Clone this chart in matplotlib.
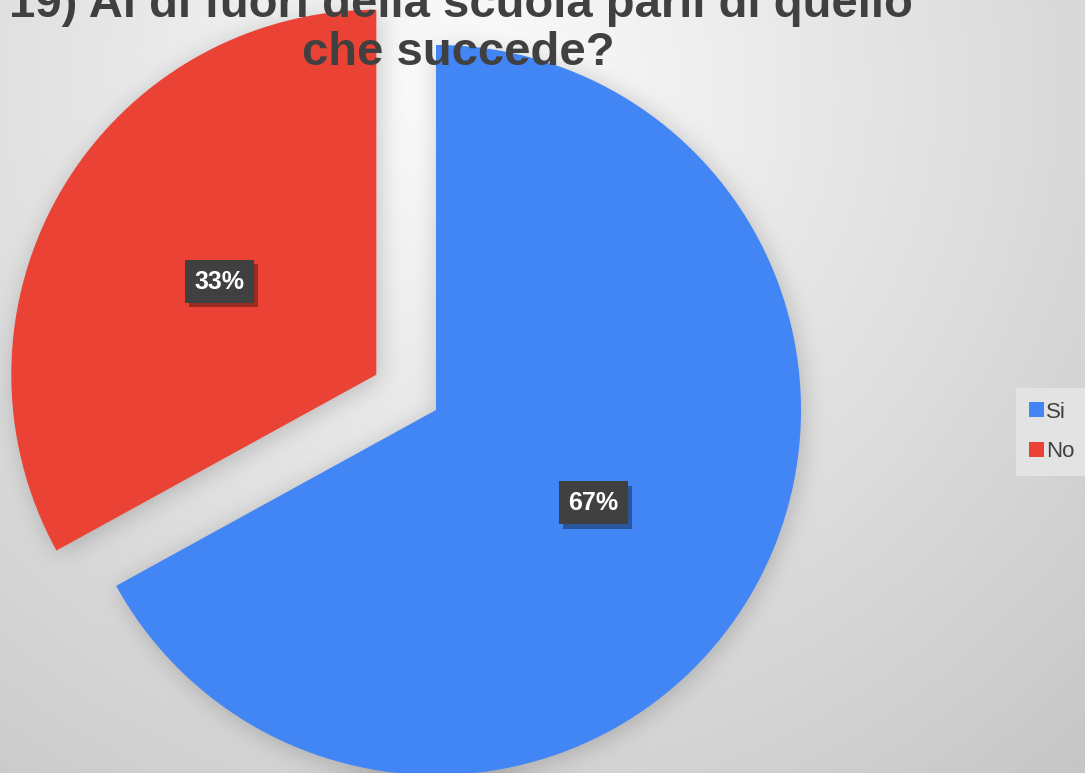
import numpy as np
import matplotlib.pyplot as plt
import matplotlib.patheffects as pe

plt.rcParams['font.family'] = ['Liberation Sans', 'DejaVu Sans']

labels = ['Si', 'No']
values = [67, 33]
colors = ['#4285f4', '#ea4335']
title_lines = ['19) Al di fuori della scuola parli di quello', 'che succede?']

W, H = 1085, 773
cx, cy, r = 436, 363, 365
explode = [0, 0.19]   # fraction of radius
startangle = 90


def box_blur(a, k):
    # simple separable box blur, run a few times ~ gaussian
    for _ in range(3):
        c = np.cumsum(np.pad(a, ((k + 1, k), (0, 0)), mode='edge'), axis=0)
        a = (c[2 * k + 1:] - c[:-2 * k - 1]) / (2 * k + 1)
        c = np.cumsum(np.pad(a, ((0, 0), (k + 1, k)), mode='edge'), axis=1)
        a = (c[:, 2 * k + 1:] - c[:, :-2 * k - 1]) / (2 * k + 1)
    return a


# background: soft radial grey gradient
yy, xx = np.mgrid[0:H, 0:W].astype(float)
d = np.hypot(xx - 470, yy - (H - 90)) / 950
bg = np.clip(0.99 - 0.22 * d, 0, 1)

# shadow of the pie slices
mask = np.zeros((H, W))
frac = np.array(values) / np.sum(values) * 360
t2 = startangle
for f, e in zip(frac, explode):
    t1 = t2 - f
    mid = np.deg2rad((t1 + t2) / 2)
    ox, oy = cx + e * r * np.cos(mid) + 2, cy + e * r * np.sin(mid) - 4
    ang = (np.degrees(np.arctan2(yy - oy, xx - ox)) - t1) % 360
    inside = (np.hypot(xx - ox, yy - oy) <= r) & (ang <= f)
    mask[inside] = 1
    t2 = t1
shadow = box_blur(mask, 11)
bg = bg * (1 - 0.2 * shadow)
img = np.dstack([bg, bg, bg])

fig = plt.figure(figsize=(10.85, 7.73), dpi=100)
ax = fig.add_axes([0, 0, 1, 1])
ax.imshow(img, origin='lower', extent=[0, W, 0, H], zorder=0, interpolation='bilinear')

wedges, texts, autotexts = ax.pie(values, labels=labels, colors=colors, startangle=startangle,
                                  counterclock=False, explode=[e * r for e in explode],
                                  center=(cx, cy), radius=r,
                                  autopct='%d%%', pctdistance=0.5, labeldistance=None,
                                  wedgeprops=dict(linewidth=0, zorder=2))
for t in autotexts:
    t.set(color='white', fontsize=18, fontweight='bold', zorder=5)
    t.set_bbox(dict(boxstyle='square,pad=0.38', fc='#404040', ec='none'))
    t.get_bbox_patch().set_path_effects([
        pe.withSimplePatchShadow(offset=(3, -3), shadow_rgbFace='black', alpha=0.35)])

ax.set_xlim(0, W)
ax.set_ylim(0, H)
ax.axis('off')

ax.text(461, H - 17, title_lines[0], ha='center', va='baseline', fontsize=34,
        fontweight='bold', color='#404040', zorder=6)
ax.text(458, H - 65, title_lines[1], ha='center', va='baseline', fontsize=34,
        fontweight='bold', color='#404040', zorder=6)

leg = fig.legend(wedges, labels, loc='center left', bbox_to_anchor=(1016 / W, 1 - 432 / H),
                 fontsize=16, frameon=True, fancybox=False, facecolor='#e3e3e3', edgecolor='none',
                 framealpha=1, handlelength=0.65, handleheight=0.65, handletextpad=0.1,
                 labelspacing=0.85, borderpad=0.6, borderaxespad=0)
for t in leg.get_texts():
    t.set_color('#404040')

fig.savefig('out.png', dpi=100)
